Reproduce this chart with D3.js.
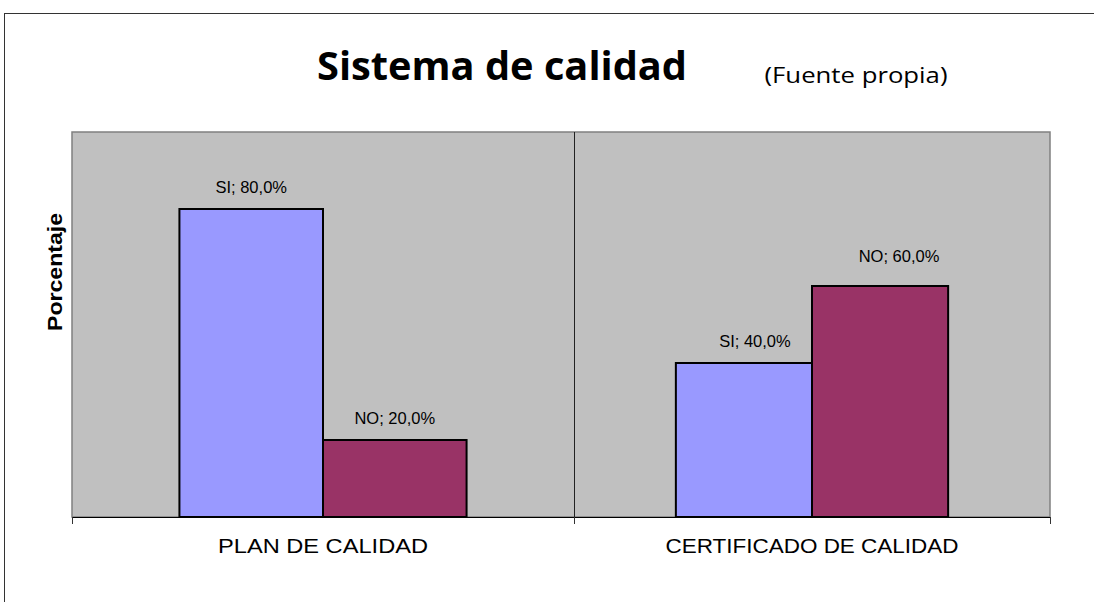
<!DOCTYPE html>
<html>
<head>
<meta charset="utf-8">
<script src="https://cdn.jsdelivr.net/npm/d3@7"></script>
<style>
  body { margin: 0; background: #fff; }
  text { font-family: "Liberation Sans", Arial, sans-serif; fill: #000; }
</style>
</head>
<body>
<div id="chart"></div>
<script>
// Sistema de calidad - grouped bars
const categories = ["PLAN DE CALIDAD", "CERTIFICADO DE CALIDAD"];
const seriesNames = ["SI", "NO"];
const siValues = [0.8, 0.4];
const noValues = [0.2, 0.6];
const seriesColors = ["#9999ff", "#993366"];

const W = 1094, H = 602;
const plot = { left: 72, right: 1050, top: 132, bottom: 517 };

const svg = d3.select("#chart")
    .append("svg")
    .attr("width", W)
    .attr("height", H);

// chart frame (runs off the page on right and bottom)
svg.append("rect")
    .attr("x", 4.5).attr("y", 13.5)
    .attr("width", 1200).attr("height", 700)
    .attr("fill", "none")
    .attr("stroke", "#333");

// categories are not equally wide in the picture, so piecewise scale
const x = d3.scaleLinear()
    .domain([0, 1, 2])
    .range([plot.left, 574, plot.right]);

const inner = d3.scaleBand()
    .domain(seriesNames)
    .range([0.214, 0.786]);

const y = d3.scaleLinear()
    .domain([0, 1])
    .range([plot.bottom, plot.top]);

// plot area
svg.append("rect")
    .attr("x", x(0)).attr("y", y(1))
    .attr("width", x(2) - x(0)).attr("height", y(0) - y(1))
    .attr("fill", "#c0c0c0")
    .attr("stroke", "#808080")
    .attr("stroke-width", 1.5);

// category divider
svg.append("line")
    .attr("x1", x(1) + 0.5).attr("x2", x(1) + 0.5)
    .attr("y1", y(1)).attr("y2", y(0))
    .attr("stroke", "#222");

const data = [];
categories.forEach((c, i) => {
    data.push({ cat: i, name: "SI", value: siValues[i] });
    data.push({ cat: i, name: "NO", value: noValues[i] });
});

const bx0 = d => x(d.cat + inner(d.name));
const bx1 = d => x(d.cat + inner(d.name) + inner.bandwidth());

svg.selectAll(".bar")
    .data(data)
    .enter()
    .append("rect")
    .attr("class", "bar")
    .attr("x", bx0)
    .attr("y", d => y(d.value))
    .attr("width", d => bx1(d) - bx0(d))
    .attr("height", d => y(0) - y(d.value))
    .attr("fill", d => seriesColors[seriesNames.indexOf(d.name)])
    .attr("stroke", "#000")
    .attr("stroke-width", 2);

const pct = v => d3.format(".1%")(v).replace(".", ",");

svg.selectAll(".bar-value")
    .data(data)
    .enter()
    .append("text")
    .attr("class", "bar-value")
    .attr("x", d => (bx0(d) + bx1(d)) / 2 + (d.cat === 1 ? (d.name === "SI" ? 11 : 19) : 0))
    .attr("y", d => y(d.value) - (d.cat === 1 && d.name === "NO" ? 24 : 16))
    .attr("text-anchor", "middle")
    .style("font-size", "16.5px")
    .text(d => d.name + "; " + pct(d.value));

// x axis: baseline with ticks on category boundaries
const xAxis = svg.append("g")
    .attr("transform", `translate(0,${y(0)})`)
    .call(d3.axisBottom(x).tickValues([0, 1, 2]).tickSize(7).tickSizeOuter(0).tickFormat(""));
xAxis.select(".domain").attr("stroke", "#000");
xAxis.selectAll(".tick line").attr("stroke", "#333");

svg.selectAll(".cat-label")
    .data(categories)
    .enter()
    .append("text")
    .attr("class", "cat-label")
    .attr("x", (d, i) => x(i + 0.5))
    .attr("y", 553)
    .attr("text-anchor", "middle")
    .style("font-size", "21px")
    .attr("textLength", (d, i) => i === 0 ? 210 : 293)
    .attr("lengthAdjust", "spacingAndGlyphs")
    .text(d => d);

// y axis title
svg.append("text")
    .attr("transform", "translate(62,272) rotate(-90)")
    .attr("text-anchor", "middle")
    .style("font-size", "20px")
    .style("font-weight", "bold")
    .attr("textLength", 118)
    .attr("lengthAdjust", "spacingAndGlyphs")
    .text("Porcentaje");

// titles
svg.append("text")
    .attr("x", 502)
    .attr("y", 80)
    .attr("text-anchor", "middle")
    .style("font-family", "'Open Sans', sans-serif")
    .style("font-size", "39px")
    .style("font-weight", "bold")
    .attr("textLength", 370)
    .attr("lengthAdjust", "spacingAndGlyphs")
    .text("Sistema de calidad");

svg.append("text")
    .attr("x", 856)
    .attr("y", 83)
    .attr("text-anchor", "middle")
    .style("font-family", "'Open Sans', sans-serif")
    .style("font-size", "22px")
    .attr("textLength", 183)
    .attr("lengthAdjust", "spacingAndGlyphs")
    .text("(Fuente propia)");
</script>
</body>
</html>
